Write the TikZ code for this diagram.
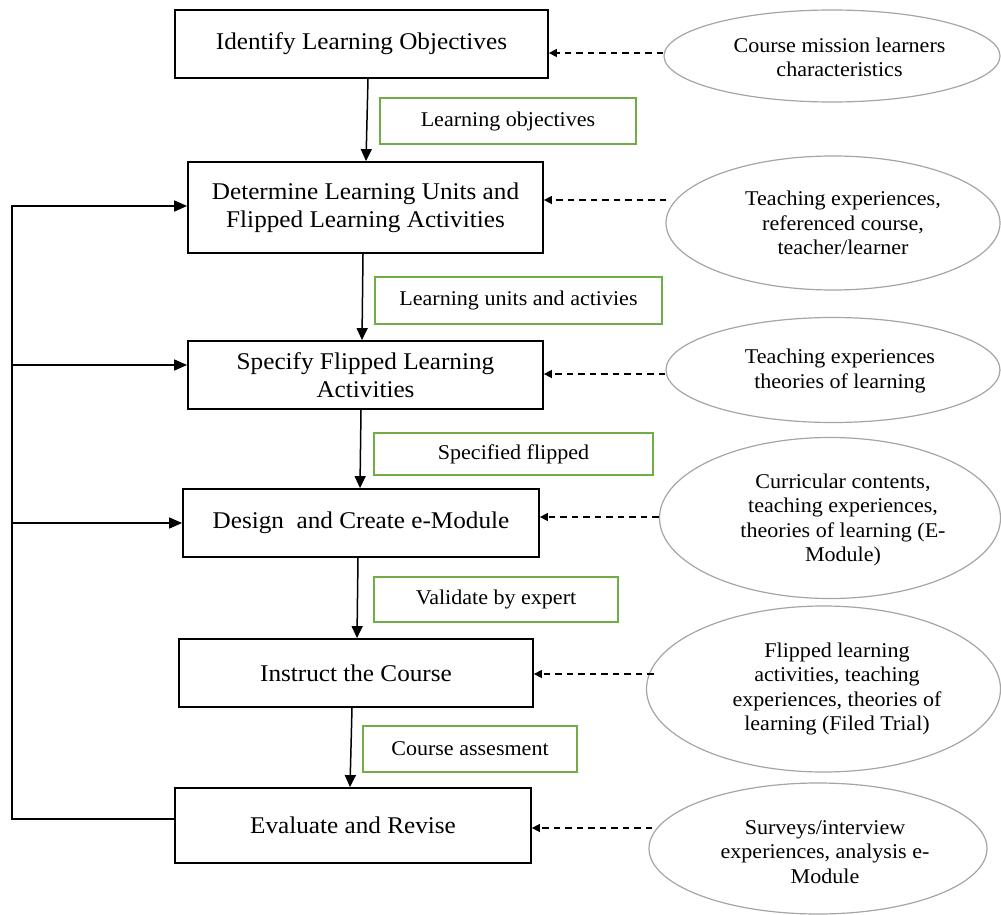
\documentclass[tikz,border=0pt]{standalone}
\usepackage{fontspec}
\setmainfont{Liberation Serif}[FakeStretch=1.05]
\usetikzlibrary{arrows.meta,shapes.geometric}
\definecolor{boxgreen}{RGB}{112,173,71}
\definecolor{ellgray}{RGB}{165,165,165}
\newcommand{\bfnt}{\fontsize{24}{28}\selectfont}
\newcommand{\efnt}{\fontsize{21}{24.5}\selectfont}
\tikzset{
  stepbox/.style={draw=black, line width=1.8pt, rectangle, inner sep=0pt, align=center, font=\bfnt, fill=white},
  greenbox/.style={draw=boxgreen, line width=1.2pt, rectangle, inner sep=0pt, align=center, font=\efnt, fill=white},
  srcell/.style={draw=ellgray, line width=1.2pt, ellipse, inner sep=0pt},
  elltext/.style={font=\efnt, align=center},
  mainarr/.style={line width=1.5pt, -{Triangle[length=12pt,width=11pt]}},
  fbarr/.style={line width=1.5pt, -{Triangle[length=13pt,width=11pt]}},
  dasharr/.style={line width=1.5pt, dash pattern=on 6.5pt off 5pt, -{Triangle[length=8pt,width=8pt]}}
}
\begin{document}
\begin{tikzpicture}[x=1pt,y=-1pt]
\useasboundingbox (0,0) rectangle (1001,915);
% process boxes
\node[stepbox, minimum width=373pt, minimum height=68pt] (b1) at (361.5,44) {Identify Learning Objectives};
\node[stepbox, minimum width=355pt, minimum height=91pt] (b2) at (365.5,207.5) {Determine Learning Units and\\Flipped Learning Activities};
\node[stepbox, minimum width=355pt, minimum height=68pt] (b3) at (365.5,375) {Specify Flipped Learning\\Activities};
\node[stepbox, minimum width=356pt, minimum height=68pt] (b4) at (361,523) {Design\ \ and Create e-Module};
\node[stepbox, minimum width=354pt, minimum height=68pt] (b5) at (356,673) {Instruct the Course};
\node[stepbox, minimum width=356pt, minimum height=75pt] (b6) at (353,825.5) {Evaluate and Revise};
% green output boxes
\node[greenbox, minimum width=256pt, minimum height=46pt] (g1) at (508,121) {Learning objectives};
\node[greenbox, minimum width=287pt, minimum height=47pt] (g2) at (518.5,300.5) {Learning units and activies};
\node[greenbox, minimum width=279pt, minimum height=42pt] (g3) at (513.5,454) {Specified flipped};
\node[greenbox, minimum width=244pt, minimum height=45pt] (g4) at (496,599.5) {Validate by expert};
\node[greenbox, minimum width=214pt, minimum height=46pt] (g5) at (470,749) {Course assesment};
% source ellipses
\node[srcell, minimum width=336pt, minimum height=92pt,
  label={[elltext, xshift=7.5pt, yshift=-1.5pt]center:Course mission learners\\characteristics}] (e1) at (832,56) {};
\node[srcell, minimum width=334pt, minimum height=134pt,
  label={[elltext, xshift=10pt]center:Teaching experiences,\\referenced course,\\teacher/learner}] (e2) at (833,223) {};
\node[srcell, minimum width=334pt, minimum height=105pt,
  label={[elltext, xshift=7pt, yshift=-1pt]center:Teaching experiences\\theories of learning}] (e3) at (833,370) {};
\node[srcell, minimum width=341pt, minimum height=161pt,
  label={[elltext, xshift=13pt, yshift=-2pt]center:Curricular contents,\\teaching experiences,\\theories of learning (E-\\Module)}] (e4) at (830,518) {};
\node[srcell, minimum width=354pt, minimum height=166pt,
  label={[elltext, xshift=13.5pt]center:Flipped learning\\activities, teaching\\experiences, theories of\\learning (Filed Trial)}] (e5) at (823.5,689) {};
\node[srcell, minimum width=338pt, minimum height=131pt,
  label={[elltext, xshift=7pt, yshift=-3.5pt]center:Surveys/interview\\experiences, analysis e-\\Module}] (e6) at (818,848.5) {};
% main flow
\draw[mainarr] ([xshift=6.5pt]b1.south) -- ([xshift=0.5pt]b2.north);
\draw[mainarr] ([xshift=-2.5pt]b2.south) -- ([xshift=-3.5pt]b3.north);
\draw[mainarr] ([xshift=-4.5pt]b3.south) -- ([xshift=-1pt]b4.north);
\draw[mainarr] ([xshift=-3pt]b4.south) -- ([xshift=1pt]b5.north);
\draw[mainarr] ([xshift=-4pt]b5.south) -- ([xshift=-3pt]b6.north);
% inputs
\draw[dasharr] ([yshift=3pt]e1.west) coordinate (s1) -- (b1.east |- s1);
\draw[dasharr] ([yshift=23pt,xshift=1pt]e2.west) coordinate (s2) -- (b2.east |- s2);
\draw[dasharr] ([yshift=-4pt]e3.west) coordinate (s3) -- (b3.east |- s3);
\draw[dasharr] ([yshift=1pt]e4.west) coordinate (s4) -- (b4.east |- s4);
\draw[dasharr] ([yshift=15pt,xshift=8pt]e5.west) coordinate (s5) -- (b5.east |- s5);
\draw[dasharr] ([yshift=20.5pt,xshift=4pt]e6.west) coordinate (s6) -- (b6.east |- s6);
% feedback loop
\coordinate (loopx) at (12,0);
\coordinate (in2) at ([yshift=1.5pt]b2.west);
\coordinate (in3) at ([yshift=10pt]b3.west);
\coordinate (out6) at ([yshift=6.5pt]b6.west);
\draw[fbarr] (out6) -| (loopx |- in2) -- (in2);
\draw[fbarr] (loopx |- in3) -- (in3);
\draw[fbarr] (loopx |- b4.west) -- (b4.west);
\end{tikzpicture}
\end{document}
